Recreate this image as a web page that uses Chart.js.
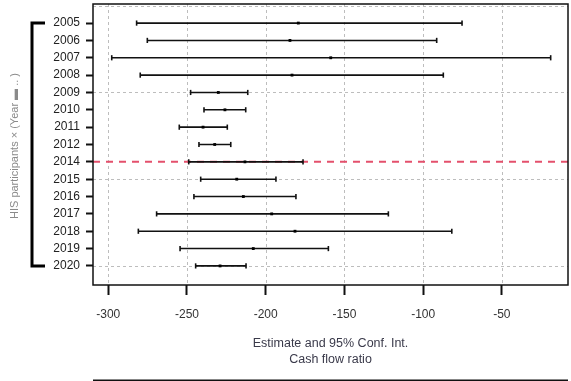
<!DOCTYPE html>
<html>
<head>
<meta charset="utf-8">
<script src="https://cdn.jsdelivr.net/npm/chart.js@4/dist/chart.umd.min.js"></script>
<style>
  html, body { margin: 0; padding: 0; background: #ffffff; }
  #wrap { width: 571px; height: 381px; position: relative; }
</style>
</head>
<body>
<div id="wrap"><canvas id="c" width="571" height="381"></canvas></div>
<script>
// Year categories, top to bottom
const years = ['2005','2006','2007','2008','2009','2010','2011','2012','2014','2015','2016','2017','2018','2019','2020'];
// Point estimates of the cash flow ratio
const estimates = [-179.3, -184.6, -158.7, -183.3, -230.1, -225.9, -239.8, -232.4, -213.2, -218.4, -214.2, -196.2, -181.4, -207.9, -229.0];
// 95% confidence interval bounds
const lower = [-282.0, -275.2, -297.8, -279.7, -247.7, -239.2, -254.9, -242.4, -248.9, -241.3, -245.6, -269.3, -280.9, -254.4, -244.5];
const upper = [-75.3, -91.4, -19.0, -87.2, -211.4, -212.7, -224.4, -222.2, -176.3, -193.5, -180.8, -122.1, -81.8, -160.2, -212.5];
// Axis ticks
const xTicks = [-300, -250, -200, -150, -100, -50];
const yGridRows = [0, 5, 10, 15];
// Reference year marked with a dashed line
const refYear = '2014';

const rows = years.map((_, i) => i + 1);
const X_MIN = -309.7, X_MAX = -8;

// Interval segments separated by gaps
const ciData = [];
rows.forEach((r, i) => {
  ciData.push({x: lower[i], y: r});
  ciData.push({x: upper[i], y: r});
  ciData.push({x: upper[i], y: null});
});
const capData = [];
rows.forEach((r, i) => {
  capData.push({x: lower[i], y: r});
  capData.push({x: upper[i], y: r});
});
const estData = rows.map((r, i) => ({x: estimates[i], y: r}));
const refRow = years.indexOf(refYear) + 1;

const framePlugin = {
  id: 'frame',
  beforeDatasetsDraw(chart) {
    const {ctx, chartArea: a, scales: {x, y}} = chart;
    ctx.save();
    ctx.strokeStyle = '#bdbdbd';
    ctx.lineWidth = 1;
    ctx.setLineDash([3, 3]);
    xTicks.forEach(v => {
      const px = Math.round(x.getPixelForValue(v)) + 0.5;
      ctx.beginPath(); ctx.moveTo(px, a.top); ctx.lineTo(px, a.bottom); ctx.stroke();
    });
    yGridRows.forEach(v => {
      const py = Math.round(y.getPixelForValue(v)) + 0.5;
      ctx.beginPath(); ctx.moveTo(a.left, py); ctx.lineTo(a.right, py); ctx.stroke();
    });
    ctx.restore();
  },
  afterDraw(chart) {
    const {ctx, chartArea: a, scales: {y}} = chart;
    ctx.save();
    // plot box
    ctx.strokeStyle = '#111';
    ctx.lineWidth = 1.5;
    ctx.strokeRect(a.left, a.top, a.right - a.left, a.bottom - a.top);

    // grouping bracket on the left
    const yTop = y.getPixelForValue(1);
    const yBot = y.getPixelForValue(rows.length);
    ctx.lineWidth = 3;
    ctx.strokeStyle = '#000';
    ctx.beginPath();
    ctx.moveTo(45, yTop); ctx.lineTo(32, yTop); ctx.lineTo(32, yBot); ctx.lineTo(45, yBot);
    ctx.stroke();

    // axis titles
    ctx.fillStyle = '#8a8a8a';
    ctx.font = '11px "Liberation Sans", Arial, sans-serif';
    ctx.textAlign = 'center';
    ctx.textBaseline = 'middle';
    ctx.save();
    ctx.translate(15, 146);
    ctx.rotate(-Math.PI / 2);
    ctx.fillText('HIS participants \u00d7 (Year \u25ac .. )', 0, 0);
    ctx.restore();

    ctx.fillStyle = '#3a3a4a';
    ctx.font = '12.5px "Liberation Sans", Arial, sans-serif';
    const cx = (a.left + a.right) / 2;
    ctx.fillText('Estimate and 95% Conf. Int.', cx, 344);
    ctx.fillText('Cash flow ratio', cx, 360);

    // top edge of the following panel
    ctx.lineWidth = 3;
    ctx.strokeStyle = '#111';
    ctx.beginPath(); ctx.moveTo(a.left, 381); ctx.lineTo(a.right, 381); ctx.stroke();
    ctx.restore();
  }
};

new Chart(document.getElementById('c'), {
  type: 'scatter',
  data: {
    datasets: [
      {
        label: 'ref',
        type: 'line',
        data: [{x: X_MIN, y: refRow}, {x: X_MAX, y: refRow}],
        borderColor: '#e4506c',
        borderWidth: 2,
        borderDash: [7, 6],
        pointRadius: 0,
        order: 10
      },
      {
        label: 'ci',
        type: 'line',
        data: ciData,
        borderColor: '#111',
        borderWidth: 1.6,
        pointRadius: 0,
        spanGaps: false,
        order: 3
      },
      {
        label: 'caps',
        data: capData,
        pointStyle: 'line',
        rotation: 90,
        pointRadius: 2.6,
        borderColor: '#111',
        pointBorderWidth: 1.6,
        order: 2
      },
      {
        label: 'estimate',
        data: estData,
        pointStyle: 'rect',
        pointRadius: 2,
        backgroundColor: '#000',
        borderColor: '#000',
        pointBorderWidth: 0,
        order: 1
      }
    ]
  },
  options: {
    responsive: false,
    animation: false,
    events: [],
    layout: { autoPadding: false, padding: { left: 0, right: 3, top: 4, bottom: 0 } },
    plugins: { legend: { display: false }, tooltip: { enabled: false } },
    scales: {
      x: {
        type: 'linear',
        min: X_MIN,
        max: X_MAX,
        afterBuildTicks: s => { s.ticks = xTicks.map(v => ({value: v})); },
        afterFit: s => { s.height = 96; s.paddingLeft = 0; s.paddingRight = 0; },
        border: { display: false },
        grid: { drawOnChartArea: false, drawTicks: true, tickLength: 10, tickColor: '#111', tickWidth: 2 },
        ticks: {
          color: '#333',
          padding: 12,
          maxRotation: 0,
          font: { family: '"Liberation Sans", Arial, sans-serif', size: 12 },
          callback: v => String(v).replace('\u2212', '-')
        }
      },
      y: {
        type: 'linear',
        reverse: true,
        min: -0.1,
        max: 16.1,
        afterBuildTicks: s => { s.ticks = rows.map(v => ({value: v})); },
        afterFit: s => { s.width = 93; s.paddingTop = 0; s.paddingBottom = 0; },
        border: { display: false },
        grid: { drawOnChartArea: false, drawTicks: true, tickLength: 7, tickColor: '#111', tickWidth: 2 },
        ticks: {
          color: '#222',
          padding: 6,
          font: { family: '"Liberation Sans", Arial, sans-serif', size: 12 },
          callback: v => years[v - 1] || ''
        }
      }
    }
  },
  plugins: [framePlugin]
});
</script>
</body>
</html>
